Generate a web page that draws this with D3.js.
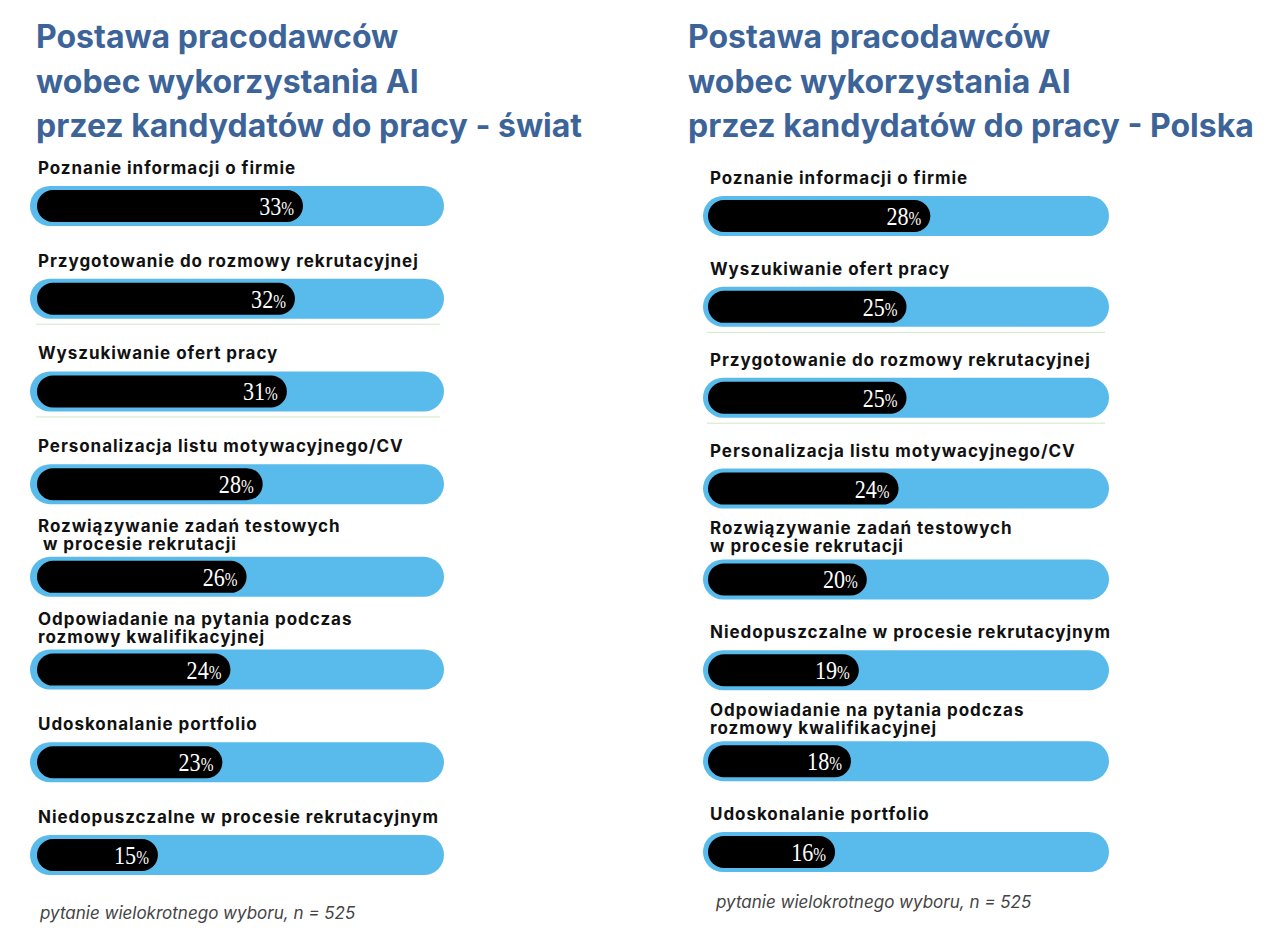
<!DOCTYPE html>
<html>
<head>
<meta charset="utf-8">
<style>
  body { margin: 0; background: #fff; }
  svg { display: block; }
  .title { font-family: Inter, sans-serif; font-weight: 700; font-size: 32px; fill: #3d6499; }
  .label { font-family: Inter, sans-serif; font-weight: 700; font-size: 17px; letter-spacing: 0.95px; fill: #111; white-space: pre; }
  .value { font-family: "Liberation Serif", serif; font-size: 26px; fill: #fff; }
  .note { font-family: Inter, sans-serif; font-style: italic; font-size: 17px; fill: #444; }
</style>
</head>
<body>
<svg width="1280" height="947"></svg>
<script src="https://d3js.org/d3.v7.min.js"></script>
<script>
// --- data ---
const worldTitle = ["Postawa pracodawców", "wobec wykorzystania AI", "przez kandydatów do pracy - świat"];
const worldCategories = [
  "Poznanie informacji o firmie",
  "Przygotowanie do rozmowy rekrutacyjnej",
  "Wyszukiwanie ofert pracy",
  "Personalizacja listu motywacyjnego/CV",
  "Rozwiązywanie zadań testowych\n w procesie rekrutacji",
  "Odpowiadanie na pytania podczas\nrozmowy kwalifikacyjnej",
  "Udoskonalanie portfolio",
  "Niedopuszczalne w procesie rekrutacyjnym"
];
const worldValues = [33, 32, 31, 28, 26, 24, 23, 15];

const polandTitle = ["Postawa pracodawców", "wobec wykorzystania AI", "przez kandydatów do pracy - Polska"];
const polandCategories = [
  "Poznanie informacji o firmie",
  "Wyszukiwanie ofert pracy",
  "Przygotowanie do rozmowy rekrutacyjnej",
  "Personalizacja listu motywacyjnego/CV",
  "Rozwiązywanie zadań testowych\nw procesie rekrutacji",
  "Niedopuszczalne w procesie rekrutacyjnym",
  "Odpowiadanie na pytania podczas\nrozmowy kwalifikacyjnej",
  "Udoskonalanie portfolio"
];
const polandValues = [28, 25, 25, 24, 20, 19, 18, 16];

const footnote = "pytanie wielokrotnego wyboru, n = 525";

const svg = d3.select("svg");

function drawPanel(cfg, title, categories, values) {
  const g = svg.append("g");
  const rows = categories.map((c, i) => ({ cat: c, value: values[i], i }));

  const x = d3.scaleLinear().domain([0, 50]).range([cfg.barLeft, cfg.barRight]);
  const y = d3.scalePoint().domain(categories).range([cfg.yFirst, cfg.yLast]);

  // title
  g.append("text").attr("class", "title")
    .selectAll("tspan").data(title).join("tspan")
    .attr("x", cfg.titleX)
    .attr("y", (d, i) => cfg.titleY + i * 44.5)
    .text(d => d);

  const row = g.selectAll("g.row").data(rows).join("g").attr("class", "row");

  // background track
  row.append("rect")
    .attr("x", cfg.trackLeft)
    .attr("width", cfg.trackRight - cfg.trackLeft)
    .attr("y", d => y(d.cat) - 20)
    .attr("height", 40)
    .attr("rx", 20)
    .attr("fill", "#58bbeb");

  // value bar
  row.append("rect")
    .attr("x", x(0))
    .attr("width", d => x(d.value) - x(0))
    .attr("y", d => y(d.cat) - 16)
    .attr("height", 32)
    .attr("rx", 16)
    .attr("fill", "#000");

  // value label
  const vt = row.append("text").attr("class", "value")
    .attr("text-anchor", "end")
    .attr("transform", d => `translate(${x(d.value) - 9},${y(d.cat) + 9}) scale(0.85,1)`);
  vt.append("tspan").text(d => d.value);
  vt.append("tspan").attr("font-size", 18).text("%");

  // category labels
  row.append("text").attr("class", "label")
    .selectAll("tspan")
    .data(d => {
      const lines = d.cat.split("\n");
      const base = y(d.cat) - (lines.length > 1 ? 45 : 32);
      return lines.map((l, k) => ({ l, yy: base + k * 18 }));
    })
    .join("tspan")
    .attr("x", cfg.labelX)
    .attr("y", d => d.yy)
    .text(d => d.l);

  // thin separators after rows 2 and 3
  g.selectAll("line.sep").data(rows.slice(1, 3)).join("line")
    .attr("x1", cfg.barLeft - 1)
    .attr("x2", cfg.trackRight - 4)
    .attr("y1", d => y(d.cat) + 25.5)
    .attr("y2", d => y(d.cat) + 25.5)
    .attr("stroke", "#cfe9c6")
    .attr("stroke-width", 1);

  g.append("text").attr("class", "note")
    .attr("x", cfg.noteX).attr("y", cfg.noteY)
    .text(footnote);
}

drawPanel({
  titleX: 36, titleY: 48,
  trackLeft: 30, trackRight: 444,
  barLeft: 37, barRight: 440,
  yFirst: 206, yLast: 855,
  labelX: 38,
  noteX: 40, noteY: 919
}, worldTitle, worldCategories, worldValues);

drawPanel({
  titleX: 688, titleY: 48,
  trackLeft: 703, trackRight: 1109,
  barLeft: 708, barRight: 1105,
  yFirst: 216, yLast: 852,
  labelX: 710,
  noteX: 716, noteY: 908
}, polandTitle, polandCategories, polandValues);
</script>
</body>
</html>
